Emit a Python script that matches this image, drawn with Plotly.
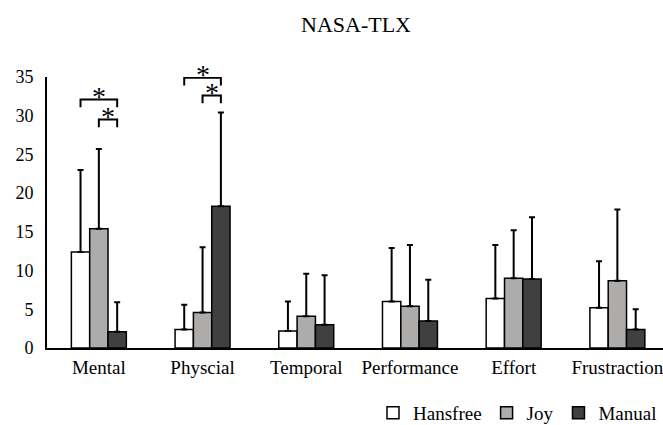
import plotly.graph_objects as go

categories = ["Mental", "Physcial", "Temporal", "Performance", "Effort", "Frustraction"]
series_names = ["Hansfree", "Joy", "Manual"]
hansfree = [12.4, 2.4, 2.2, 6.0, 6.4, 5.2]
hansfree_err = [10.6, 3.2, 3.8, 6.9, 6.9, 6.0]
joy = [15.4, 4.6, 4.1, 5.4, 9.0, 8.7]
joy_err = [10.3, 8.4, 5.5, 7.9, 6.2, 9.2]
manual = [2.1, 18.3, 3.0, 3.5, 8.9, 2.4]
manual_err = [3.8, 12.1, 6.4, 5.3, 8.0, 2.6]
y_ticks = [0, 5, 10, 15, 20, 25, 30, 35]

# significance brackets: category index, from series, to series, level
sig_cat = [0, 0, 1, 1]
sig_from = [0, 1, 0, 1]
sig_to = [2, 2, 2, 2]
sig_level = [32.1, 29.5, 34.9, 32.6]
sig_drop = 1.0

colors = ["#FFFFFF", "#AEABAB", "#404040"]
FONT = "Liberation Serif"

values = [hansfree, joy, manual]
errors = [hansfree_err, joy_err, manual_err]
x_idx = list(range(len(categories)))

bargap = 0.47
bar_w = (1 - bargap) / 3

fig = go.Figure()
for name, vals, errs, col in zip(series_names, values, errors, colors):
    fig.add_trace(go.Bar(
        name=name, x=x_idx, y=vals,
        marker=dict(color=col, line=dict(color="#000000", width=1.5)),
        error_y=dict(type="data", symmetric=False, array=errs,
                     arrayminus=[0] * len(errs), color="#000000",
                     thickness=2, width=3),
    ))

for c, a, b, lev in zip(sig_cat, sig_from, sig_to, sig_level):
    xa = c + (a - 1) * bar_w
    xb = c + (b - 1) * bar_w
    fig.add_shape(type="path",
                  path=f"M {xa} {lev - sig_drop} L {xa} {lev} L {xb} {lev} L {xb} {lev - sig_drop}",
                  xref="x", yref="y", line=dict(color="#000000", width=2))
    fig.add_annotation(x=(xa + xb) / 2, y=lev, xref="x", yref="y", yshift=9.5,
                       text="*", showarrow=False, yanchor="middle",
                       height=18, valign="top", borderpad=0,
                       font=dict(family=FONT, size=28, color="#000000"))

fig.update_layout(
    width=663, height=425,
    margin=dict(l=47, r=0, t=77, b=77, autoexpand=False),
    paper_bgcolor="#FFFFFF", plot_bgcolor="#FFFFFF",
    barmode="group", bargap=bargap, bargroupgap=0,
    title=dict(text="NASA-TLX", x=356 / 663, xanchor="center", xref="container",
               y=1 - 24 / 425, yanchor="middle", yref="container",
               font=dict(family=FONT, size=22, color="#000000")),
    font=dict(family=FONT, color="#000000"),
    showlegend=True,
    legend=dict(orientation="h", x=(373 - 47) / 616, xanchor="left",
                y=(348 - 413) / 271, yanchor="middle",
                font=dict(family=FONT, size=19, color="#000000"),
                bgcolor="rgba(0,0,0,0)", itemclick=False),
    xaxis=dict(range=[-0.5, 5.44], tickmode="array", tickvals=x_idx, ticktext=categories,
               showgrid=False, zeroline=False, showline=True, linecolor="#000000",
               linewidth=2, ticks="", tickfont=dict(family=FONT, size=19, color="#000000"),
               ticklabelstandoff=1, automargin=False, ticklabeloverflow="allow"),
    yaxis=dict(range=[0, 35], tickmode="array", tickvals=y_ticks,
               showgrid=False, zeroline=False, showline=True, linecolor="#000000",
               linewidth=2, ticks="", tickfont=dict(family=FONT, size=18, color="#000000"),
               ticklabelstandoff=8, automargin=False),
)

fig.write_html("out.html")
